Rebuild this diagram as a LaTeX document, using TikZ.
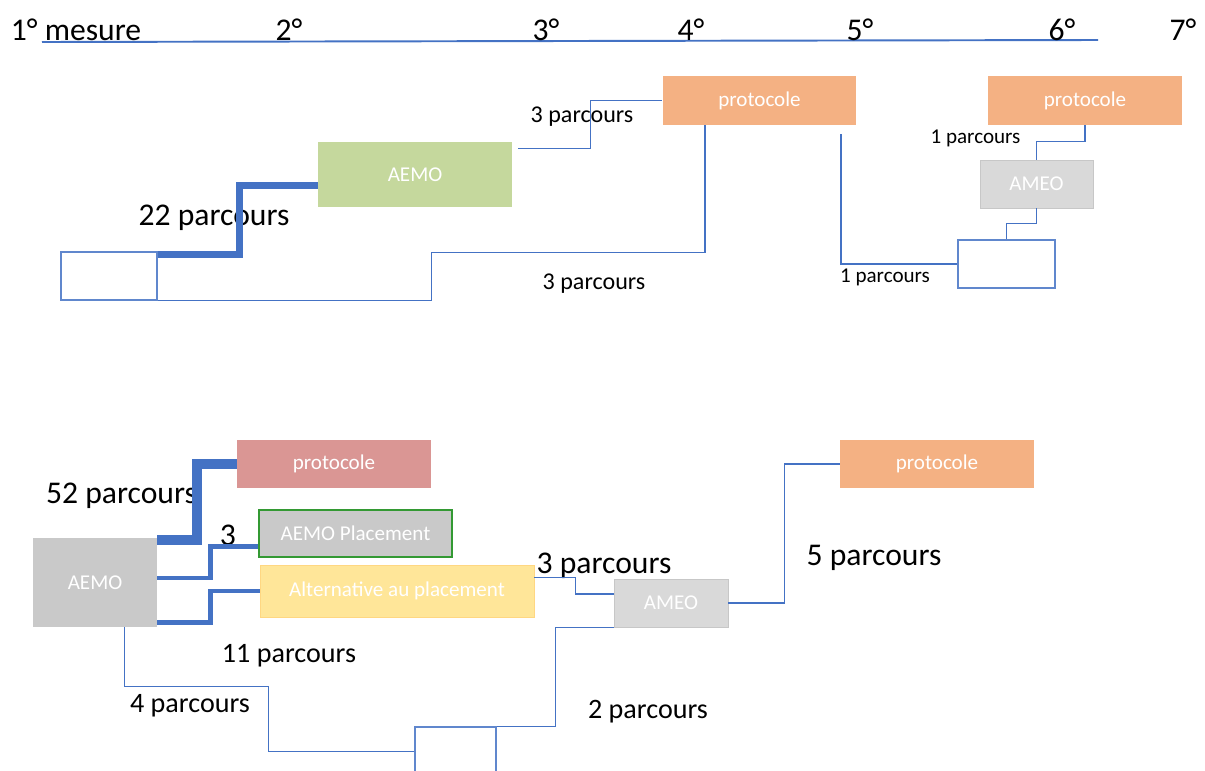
\documentclass[tikz,border=0pt]{standalone}
\usepackage{fontspec}
\setmainfont{Carlito}
\usepackage{tikz}
\usetikzlibrary{positioning,calc}
\definecolor{flowblue}{HTML}{4472C4}
\definecolor{aemogreen}{HTML}{C5D89D}
\definecolor{protoorange}{HTML}{F4B183}
\definecolor{protored}{HTML}{DA9694}
\definecolor{ameogray}{HTML}{D9D9D9}
\definecolor{aemogray}{HTML}{C9C9C9}
\definecolor{placegreen}{HTML}{339933}
\definecolor{altyellow}{HTML}{FFE699}

\begin{document}
\begin{tikzpicture}[x=0.02cm, y=-0.02cm,
    box/.style={rectangle, inner sep=0pt, text=white, font=\fontsize{12}{14}\selectfont},
    proto/.style={box, fill=protoorange, minimum width=3.88cm, minimum height=0.97cm},
    ameo/.style={box, fill=ameogray, draw=black!22, line width=0.5pt, minimum width=2.26cm, minimum height=0.96cm},
    emptybox/.style={rectangle, inner sep=0pt, draw=flowblue!85, line width=0.6pt},
    flow/.style={draw=flowblue, line width=0.8pt},
    flowmid/.style={draw=flowblue, line width=2.6pt},
    flowthick/.style={draw=flowblue, line width=4pt},
    flowheavy/.style={draw=flowblue, line width=5.7pt},
    bigtxt/.style={anchor=base, inner sep=0pt, font=\fontsize{18}{21}\selectfont},
    midtxt/.style={anchor=base, inner sep=0pt, font=\fontsize{16}{19}\selectfont},
    smalltxt/.style={anchor=base, inner sep=0pt, font=\fontsize{13.7}{16}\selectfont},
    tinytxt/.style={anchor=base, inner sep=0pt, font=\fontsize{12}{14}\selectfont}
]
    \clip (0,0) rectangle (1205,771);
    \fill[white] (0,0) rectangle (1205,771);

    % Time axis
    \coordinate (axisL) at (42,42);
    \coordinate (axisR) at (1098,40);
    \draw[flow, line width=1.1pt] (axisL) -- (axisR);
    \node[bigtxt] (m1) at (76,40) {1° mesure};
    \node[bigtxt] (m2) at (289,40) {2°};
    \node[bigtxt] (m3) at (546,40) {3°};
    \node[bigtxt] (m4) at (691,40) {4°};
    \node[bigtxt] (m5) at (860,40) {5°};
    \node[bigtxt] (m6) at (1062,40) {6°};
    \node[bigtxt] (m7) at (1183,40) {7°};

    % Upper paths
    \node[emptybox, minimum width=1.92cm, minimum height=0.96cm] (startA) at (109,276) {};
    \node[box, fill=aemogreen, minimum width=3.88cm, minimum height=1.30cm] (aemoA) at (415,174.5) {AEMO};
    \node[proto] (protoA) at (759.5,100.5) {protocole};
    \node[proto] (protoB) at (1085,100.5) {protocole};
    \node[ameo] (ameoA) at (1036.5,184) {AMEO};
    \node[emptybox, minimum width=1.94cm, minimum height=0.96cm] (startB) at (1006.5,264) {};

    \node[bigtxt] (n22) at (214,225) {22 parcours};
    \node[smalltxt] (n3a) at (582,122) {3 parcours};
    \node[smalltxt] (n3b) at (594,289) {3 parcours};
    \node[tinytxt] (n1a) at (885,282) {1 parcours};
    \node[tinytxt] (n1b) at (975.5,143) {1 parcours};

    \draw[flowthick] ($(startA.north east)+(0,3)$) -- ++(82,0) |- ($(aemoA.south west)+(0,-22)$);
    \draw[flow] ($(aemoA.north east)+(6,7)$) -- ++(72,0) |- (protoA.west);
    \draw[flow] ($(protoA.south west)+(43,0)$) |- ($(startA.south east)+(274,-48)$) |- (startA.south east);
    \draw[flow] ($(protoA.south east)+(-16,9)$) |- (startB.west);
    \draw[flow] (startB.north) -- ++(0,-16) -| (ameoA.south);
    \draw[flow] (ameoA.north) -- ++(0,-18) -| (protoB.south);

    % Lower paths
    \node[box, fill=aemogray, minimum width=2.48cm, minimum height=1.78cm] (aemoB) at (95,582.5) {AEMO};
    \node[box, fill=protored, minimum width=3.88cm, minimum height=0.97cm] (protoC) at (334,464) {protocole};
    \node[box, fill=aemogray, draw=placegreen, line width=0.6pt, minimum width=3.86cm, minimum height=0.94cm] (placeB) at (355.5,533.5) {AEMO Placement};
    \node[box, fill=altyellow, draw=altyellow!85!orange, line width=0.5pt, minimum width=5.48cm, minimum height=1.04cm] (altB) at (397,591) {Alternative au placement};
    \node[ameo, minimum width=2.28cm] (ameoB) at (671,603) {AMEO};
    \node[proto] (protoD) at (937,464) {protocole};
    \node[emptybox, minimum width=1.62cm, minimum height=1.46cm] (endB) at (455.5,763.5) {};

    \node[bigtxt] (n52) at (121.5,503) {52 parcours};
    \node[bigtxt] (n3c) at (228,545) {3};
    \node[midtxt] (n11) at (289,662) {11 parcours};
    \node[bigtxt] (n3d) at (604,573) {3 parcours};
    \node[bigtxt] (n5) at (874,565) {5 parcours};
    \node[midtxt] (n4) at (190,712) {4 parcours};
    \node[midtxt] (n2) at (648,718) {2 parcours};

    \draw[flowheavy] ($(aemoB.north east)+(0,2)$) -- ++(40,0) |- (protoC.west);
    \draw[flowmid] ($(aemoB.east)+(0,-4.5)$) -- ++(53,0) |- ($(placeB.south west)+(0,-11)$);
    \draw[flowmid] ($(aemoB.south east)+(0,-5)$) -- ++(53,0) |- (altB.west);
    \draw[flow] ($(altB.north east)+(0,13)$) -- ++(41,0) |- ($(ameoB.west)+(0,-9)$);
    \draw[flow] (ameoB.east) -- ++(56,0) |- (protoD.west);
    \draw[flow] ($(aemoB.south west)+(92,0)$) |- ($(endB.north west)+(-146,-40)$) |- ($(endB.north west)+(0,25)$);
    \draw[flow] (endB.north east) -- ++(59,0) |- (ameoB.south west);
\end{tikzpicture}
\end{document}
